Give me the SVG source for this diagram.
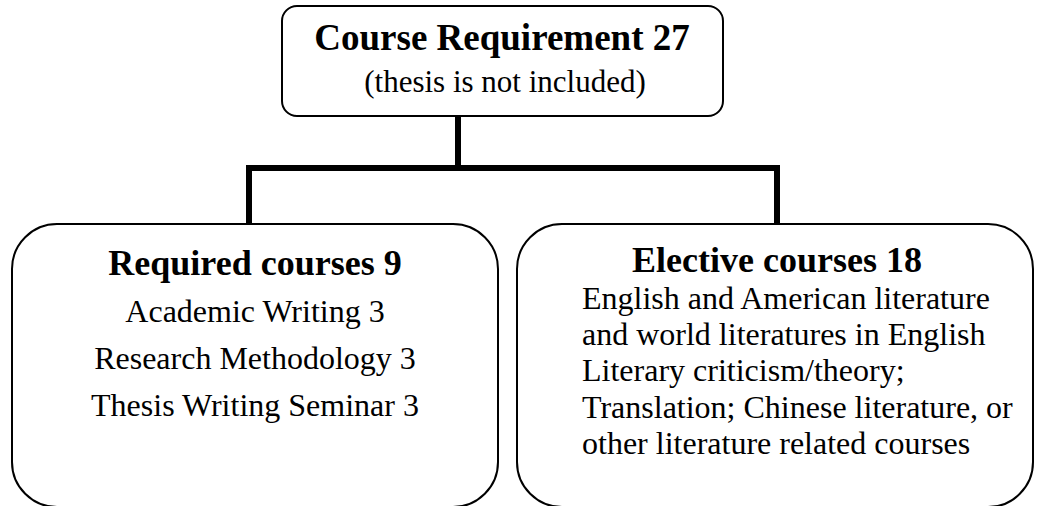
<svg xmlns="http://www.w3.org/2000/svg" width="1037" height="506" viewBox="0 0 1037 506">
<style>
.box{fill:#fff;stroke:#000;stroke-width:2}
.conn{fill:none;stroke:#000;stroke-width:6}
text{font-family:"Liberation Serif","Times New Roman",serif;fill:#000}
.b{font-weight:bold;font-size:36px}
.t{font-size:32px}
.c{text-anchor:middle}
</style>
<rect width="1037" height="506" fill="#fff"/>
<g id="connectors">
<path class="conn" d="M458 116 V170 M249 168 H777 M249 165 V224 M777 165 V224"/>
</g>
<g id="top">
<rect class="box" x="282" y="6" width="441" height="110" rx="15"/>
<text class="b c" x="502" y="50" font-size="37" style="font-size:37px">Course Requirement 27</text>
<text class="t c" x="505" y="92" style="font-size:31px">(thesis is not included)</text>
</g>
<g id="required">
<rect class="box" x="12" y="224" width="486" height="283" rx="45"/>
<text class="b c" x="255" y="275">Required courses 9</text>
<text class="t c" x="255" y="322">Academic Writing 3</text>
<text class="t c" x="255" y="369">Research Methodology 3</text>
<text class="t c" x="255" y="416">Thesis Writing Seminar 3</text>
</g>
<g id="elective">
<rect class="box" x="517" y="224" width="516" height="283" rx="45"/>
<text class="b c" x="777" y="272">Elective courses 18</text>
<text class="t" x="582" y="309">English and American literature</text>
<text class="t" x="582" y="345">and world literatures in English</text>
<text class="t" x="582" y="381">Literary criticism/theory;</text>
<text class="t" x="582" y="418">Translation; Chinese literature, or</text>
<text class="t" x="582" y="454">other literature related courses</text>
</g>
</svg>
